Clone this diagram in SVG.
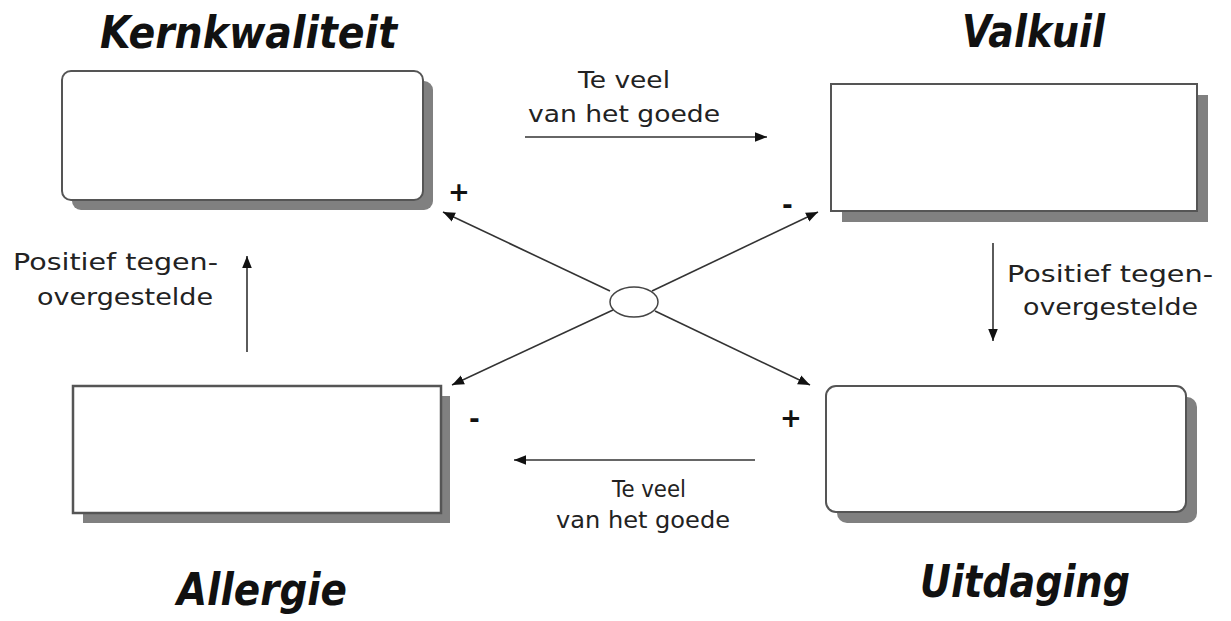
<svg xmlns="http://www.w3.org/2000/svg" width="1231" height="621" viewBox="0 0 1231 621">
<style>
.bg{fill:#ffffff}
.box{fill:#ffffff;stroke:#555555;stroke-width:2}
.shadow{fill:#808080}
.title{font-family:"DejaVu Sans","Liberation Sans",sans-serif;font-weight:bold;font-style:italic;font-size:44px;fill:#111111}
.lbl{font-family:"DejaVu Sans","Liberation Sans",sans-serif;font-size:23px;fill:#222222}
.sign{font-family:"DejaVu Sans","Liberation Sans",sans-serif;font-weight:bold;font-size:26px;fill:#111111}
.conn{stroke:#333333;stroke-width:1.6;fill:none}
</style>
<defs>
<marker id="ah" viewBox="0 0 10 10" refX="10" refY="5" markerWidth="8" markerHeight="8" markerUnits="userSpaceOnUse" orient="auto">
<path d="M0,0 L10,5 L0,10 z" fill="#111111"/>
</marker>
<marker id="ah2" viewBox="0 0 10 10" refX="10" refY="5" markerWidth="12" markerHeight="12" markerUnits="userSpaceOnUse" orient="auto">
<path d="M0,1 L10,5 L0,9 z" fill="#111111"/>
</marker>
</defs>
<rect class="bg" x="0" y="0" width="1231" height="621"/>

<g id="kernkwaliteit">
<rect class="shadow" x="72" y="81" width="361" height="129" rx="9"/>
<rect class="box" x="62" y="71" width="361" height="129" rx="9"/>
<text class="title" x="100" y="48" textLength="297" lengthAdjust="spacingAndGlyphs">Kernkwaliteit</text>
</g>

<g id="valkuil">
<rect class="shadow" x="842" y="95" width="366" height="127"/>
<rect class="box" x="831" y="84" width="366" height="127"/>
<text class="title" x="962" y="47" textLength="143" lengthAdjust="spacingAndGlyphs">Valkuil</text>
</g>

<g id="allergie">
<rect class="shadow" x="83" y="396" width="367" height="127"/>
<rect class="box" x="73" y="386" width="368" height="127" style="stroke-width:2.5"/>
<text class="title" x="177" y="605" textLength="170" lengthAdjust="spacingAndGlyphs">Allergie</text>
</g>

<g id="uitdaging">
<rect class="shadow" x="837" y="397" width="360" height="126" rx="10"/>
<rect class="box" x="826" y="386" width="360" height="126" rx="10"/>
<text class="title" x="920" y="597" textLength="210" lengthAdjust="spacingAndGlyphs">Uitdaging</text>
</g>

<g id="center">
<ellipse cx="634" cy="302" rx="24" ry="15" fill="#ffffff" stroke="#444444" stroke-width="1.5"/>
</g>

<g id="connectors">
<line class="conn" x1="610" y1="291" x2="443" y2="212" marker-end="url(#ah2)"/>
<line class="conn" x1="652" y1="291" x2="818" y2="212" marker-end="url(#ah2)"/>
<line class="conn" x1="613" y1="310" x2="452" y2="385" marker-end="url(#ah2)"/>
<line class="conn" x1="655" y1="311" x2="810" y2="385" marker-end="url(#ah2)"/>
<line class="conn" x1="525" y1="137" x2="767" y2="137" marker-end="url(#ah2)"/>
<line class="conn" x1="755" y1="460" x2="514" y2="460" marker-end="url(#ah2)"/>
<line class="conn" x1="247" y1="352" x2="247" y2="256" marker-end="url(#ah2)"/>
<line class="conn" x1="993" y1="243" x2="993" y2="341" marker-end="url(#ah2)"/>
</g>

<g id="labels">
<text class="lbl" x="578" y="88" textLength="92" lengthAdjust="spacingAndGlyphs">Te veel</text>
<text class="lbl" x="528" y="122" textLength="192" lengthAdjust="spacingAndGlyphs">van het goede</text>
<text class="lbl" x="612" y="497" textLength="74" lengthAdjust="spacingAndGlyphs">Te veel</text>
<text class="lbl" x="556" y="528" textLength="174" lengthAdjust="spacingAndGlyphs">van het goede</text>
<text class="lbl" x="13" y="270" textLength="205" lengthAdjust="spacingAndGlyphs">Positief tegen-</text>
<text class="lbl" x="37" y="305" textLength="176" lengthAdjust="spacingAndGlyphs">overgestelde</text>
<text class="lbl" x="1007" y="282" textLength="206" lengthAdjust="spacingAndGlyphs">Positief tegen-</text>
<text class="lbl" x="1023" y="315" textLength="175" lengthAdjust="spacingAndGlyphs">overgestelde</text>
<text class="sign" x="448" y="201">+</text>
<text class="sign" x="782" y="214">-</text>
<text class="sign" x="469" y="428">-</text>
<text class="sign" x="780" y="427">+</text>
</g>
</svg>
